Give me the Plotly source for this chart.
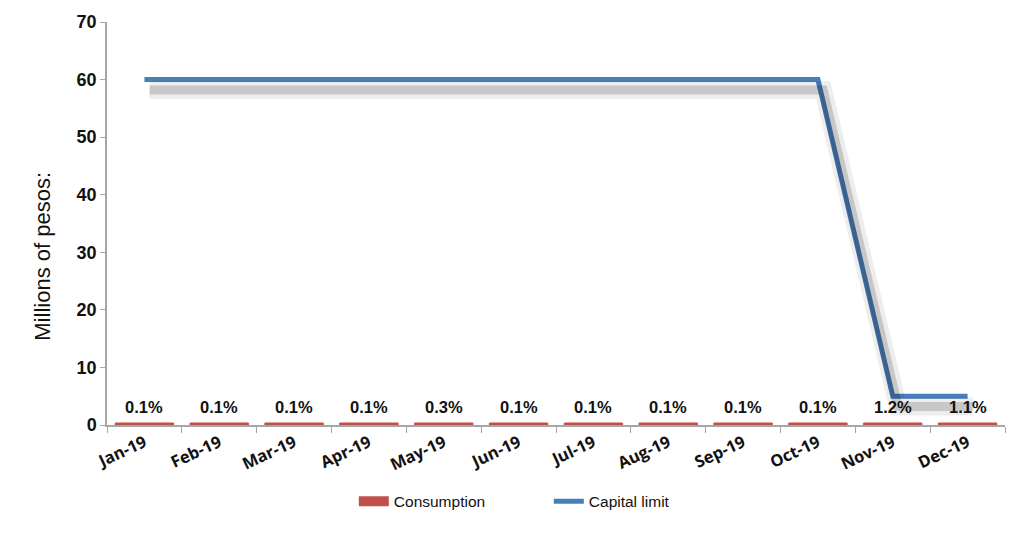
import plotly.graph_objects as go

# data
months = ["Jan-19", "Feb-19", "Mar-19", "Apr-19", "May-19", "Jun-19",
          "Jul-19", "Aug-19", "Sep-19", "Oct-19", "Nov-19", "Dec-19"]
consumption = [0.35, 0.35, 0.35, 0.35, 0.35, 0.35, 0.35, 0.35, 0.35, 0.35, 0.35, 0.35]
consumption_pct = ["0.1%", "0.1%", "0.1%", "0.1%", "0.3%", "0.1%",
                   "0.1%", "0.1%", "0.1%", "0.1%", "1.2%", "1.1%"]
capital_limit = [60, 60, 60, 60, 60, 60, 60, 60, 60, 60, 5, 5]

fig = go.Figure()

# consumption bars (legend entry drawn separately so it gets a wide swatch)
fig.add_trace(go.Bar(
    x=months, y=consumption, name="Consumption", showlegend=False,
    marker=dict(color="#C0504D", line=dict(color="#C0504D", width=1)),
))

# soft drop shadow under the line
fig.add_trace(go.Scatter(
    x=months, y=capital_limit, xaxis="x2", yaxis="y2", mode="lines",
    line=dict(color="rgba(0,0,0,0.07)", width=18), showlegend=False, hoverinfo="skip",
))
fig.add_trace(go.Scatter(
    x=months, y=capital_limit, xaxis="x2", yaxis="y2", mode="lines",
    line=dict(color="rgba(0,0,0,0.16)", width=9), showlegend=False, hoverinfo="skip",
))

# capital limit line
fig.add_trace(go.Scatter(
    x=months, y=capital_limit, yaxis="y3", mode="lines", name="Capital limit",
    line=dict(color="#4A7EBB", width=5), legendrank=2,
))

# legend swatch for consumption
fig.add_trace(go.Scatter(
    x=[None], y=[None], mode="lines", name="Consumption",
    line=dict(color="#C0504D", width=10), legendrank=1,
))

# percentage labels above the bars
for m, v, t in zip(months, consumption, consumption_pct):
    fig.add_annotation(x=m, y=v, text=t, showarrow=False, yanchor="bottom", yshift=5,
                       font=dict(family="Liberation Sans", size=16.5, color="#111111", weight="bold"))

# y axis title (sits a bit below the middle, as in the original)
fig.add_annotation(xref="paper", yref="paper", x=-0.0713, y=0.42, text="Millions of pesos:",
                   textangle=-90, showarrow=False, xanchor="center", yanchor="middle",
                   font=dict(family="Liberation Sans", size=22, color="#111111"))

fig.update_layout(
    width=1024, height=533,
    margin=dict(l=99, r=27, t=14, b=116),
    plot_bgcolor="white", paper_bgcolor="white",
    bargap=0.22,
    font=dict(family="Liberation Sans", color="#111111"),
    xaxis=dict(
        showgrid=False, showline=True, linecolor="#a6a6a6", linewidth=1.5,
        ticks="outside", tickson="boundaries", tickcolor="#a6a6a6", ticklen=6,
        tickangle=-25, automargin=False,
        tickfont=dict(family="Open Sans", size=16.5, color="#111111", weight="bold"),
    ),
    xaxis2=dict(overlaying="x", visible=False, type="category",
                range=[-0.57, 11.43]),
    yaxis=dict(
        range=[0, 70], dtick=10, showgrid=False, zeroline=False,
        showline=True, linecolor="#a6a6a6", linewidth=1.5,
        ticks="outside", tickcolor="#a6a6a6", ticklen=5, automargin=False,
        tickfont=dict(family="Liberation Sans", size=18, color="#111111", weight="bold"),
    ),
    yaxis2=dict(range=[1.8, 71.8], overlaying="y", visible=False),
    yaxis3=dict(range=[0, 70], overlaying="y", visible=False),
    showlegend=True,
    legend=dict(
        orientation="h", x=0.492, xanchor="center", y=-0.19, yanchor="middle",
        font=dict(family="Liberation Sans", size=15.5),
        entrywidth=150, entrywidthmode="pixels", itemwidth=30,
    ),
)

fig.write_html("out.html")
